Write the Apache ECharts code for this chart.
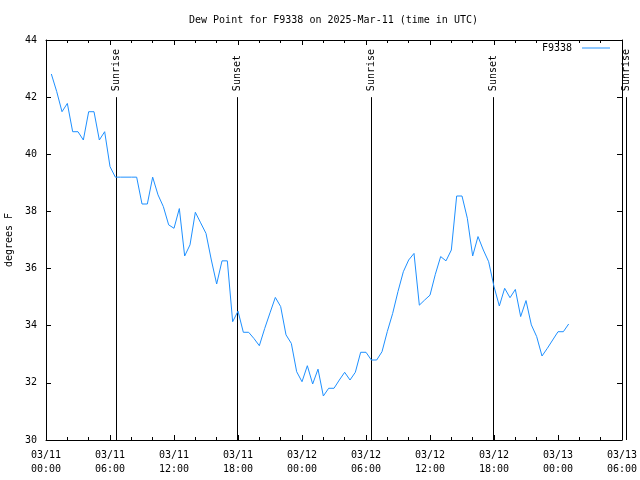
<!DOCTYPE html>
<html><head><meta charset="utf-8">
<script src="https://cdn.jsdelivr.net/npm/echarts@6/dist/echarts.min.js"></script>
<style>html,body{margin:0;padding:0;background:#fff}#c{width:640px;height:480px}</style>
</head><body><div id="c"></div>
<script>
// hours since 2025-03-11 00:00 UTC
const hours = [0.5,1.0,1.5,2.0,2.5,3.0,3.5,4.0,4.5,5.0,5.5,6.0,6.5,7.0,7.5,8.0,8.5,9.0,9.5,10.0,
  10.5,11.0,11.5,12.0,12.5,13.0,13.5,14.0,14.5,15.0,15.5,16.0,16.5,17.0,17.5,18.0,18.5,19.0,19.5,20.0,
  20.5,21.0,21.5,22.0,22.5,23.0,23.5,24.0,24.5,25.0,25.5,26.0,26.5,27.0,27.5,28.0,28.5,29.0,29.5,30.0,
  30.5,31.0,31.5,32.0,32.5,33.0,33.5,34.0,34.5,35.0,35.5,36.0,36.5,37.0,37.5,38.0,38.5,39.0,39.5,40.0,
  40.5,41.0,41.5,42.0,42.5,43.0,43.5,44.0,44.5,45.0,45.5,46.0,46.5,47.0,47.5,48.0,48.5,49.0];
const dewPoint = [42.81,42.2,41.49,41.78,40.79,40.79,40.5,41.49,41.49,40.5,40.79,39.57,39.2,39.2,39.2,39.2,39.2,38.26,38.26,39.2,
  38.58,38.17,37.53,37.41,38.1,36.44,36.83,37.97,37.6,37.23,36.3,35.46,36.27,36.27,34.14,34.51,33.77,33.77,33.55,33.3,
  33.9,34.45,34.99,34.67,33.68,33.38,32.39,32.04,32.6,31.96,32.48,31.54,31.81,31.81,32.1,32.37,32.1,32.37,33.07,33.07,
  32.8,32.8,33.09,33.8,34.43,35.2,35.89,36.3,36.53,34.72,34.9,35.07,35.8,36.42,36.27,36.65,38.54,38.54,37.76,36.44,
  37.12,36.65,36.24,35.37,34.69,35.31,34.98,35.27,34.32,34.88,34.03,33.62,32.94,33.21,33.5,33.79,33.79,34.06];
const sunHours = [6.57, 17.9, 30.47, 41.9, 54.37];
const sunLabels = ['Sunrise','Sunset','Sunrise','Sunset','Sunrise'];
const seriesName = 'F9338';
const titleText = 'Dew Point for F9338 on 2025-Mar-11 (time in UTC)';
const yName = 'degrees F';

const FONT = 'DejaVu Sans Mono';
const pad = n => (n < 10 ? '0' : '') + n;
function xLabel(h) {
  const day = 11 + Math.floor(h / 24);
  const hr = Math.round(h % 24);
  return '03/' + pad(day) + '\n' + pad(hr) + ':00';
}
const chart = echarts.init(document.getElementById('c'), null, {renderer: 'canvas'});
const tickCommon = {show: true, inside: true, length: 5, lineStyle: {color: '#000', width: 1}};
const minorCommon = {show: true, splitNumber: 3, length: 3, lineStyle: {color: '#000', width: 1}};
chart.setOption({
  animation: false,
  backgroundColor: '#fff',
  title: {text: titleText, left: 189, top: 15, padding: 0,
    textStyle: {fontFamily: FONT, fontSize: 10, fontWeight: 'normal', color: '#000'}},
  legend: {data: [seriesName], right: 30, top: 43, align: 'right', icon: 'rect',
    itemWidth: 28, itemHeight: 1, itemGap: 0, padding: 0,
    textStyle: {fontFamily: FONT, fontSize: 10, color: '#000', padding: [0, 5, 0, 0]}},
  grid: {left: 46, right: 18, top: 40, bottom: 40, containLabel: false, outerBoundsMode: 'none'},
  xAxis: [{
    type: 'value', min: 0, max: 54, interval: 6, position: 'bottom',
    axisLine: {show: true, onZero: false, lineStyle: {color: '#000', width: 1}},
    axisTick: tickCommon, minorTick: minorCommon, splitLine: {show: false},
    axisLabel: {formatter: xLabel, fontFamily: FONT, fontSize: 10, color: '#000', margin: 8, lineHeight: 14}
  }, {
    type: 'value', min: 0, max: 54, interval: 6, position: 'top',
    axisLine: {show: true, onZero: false, lineStyle: {color: '#000', width: 1}},
    axisTick: tickCommon, minorTick: minorCommon, splitLine: {show: false},
    axisLabel: {show: false}
  }],
  yAxis: [{
    type: 'value', min: 30, max: 44, interval: 2, position: 'left',
    name: yName, nameLocation: 'middle', nameGap: 31,
    nameTextStyle: {fontFamily: FONT, fontSize: 10, color: '#000'},
    axisLine: {show: true, onZero: false, lineStyle: {color: '#000', width: 1}},
    axisTick: tickCommon, splitLine: {show: false},
    axisLabel: {fontFamily: FONT, fontSize: 10, color: '#000', margin: 9}
  }, {
    type: 'value', min: 30, max: 44, interval: 2, position: 'right',
    axisLine: {show: true, onZero: false, lineStyle: {color: '#000', width: 1}},
    axisTick: tickCommon, splitLine: {show: false}, axisLabel: {show: false}
  }],
  series: [{
    name: seriesName, type: 'line', xAxisIndex: 0, yAxisIndex: 0,
    data: hours.map((h, i) => [h, dewPoint[i]]),
    symbol: 'none', color: '#1e90ff', lineStyle: {width: 1, color: '#1e90ff'}
  }, {
    type: 'custom', xAxisIndex: 0, yAxisIndex: 0, clip: false, silent: true,
    data: sunHours.map(h => [h, 42]),
    renderItem: function (params, api) {
      const h = api.value(0);
      const p0 = api.coord([h, 30]);
      const p1 = api.coord([h, api.value(1)]);
      const x = Math.round(p0[0]) + 0.5;
      return {type: 'group', children: [
        {type: 'line', shape: {x1: x, y1: p0[1], x2: x, y2: p1[1]}, style: {stroke: '#000', lineWidth: 1}},
        {type: 'text', x: x, y: p1[1] - 6, rotation: Math.PI / 2,
          style: {text: sunLabels[params.dataIndex], fill: '#000', font: '10px "' + FONT + '"',
            align: 'left', verticalAlign: 'middle'}}
      ]};
    }
  }]
});
</script></body></html>
